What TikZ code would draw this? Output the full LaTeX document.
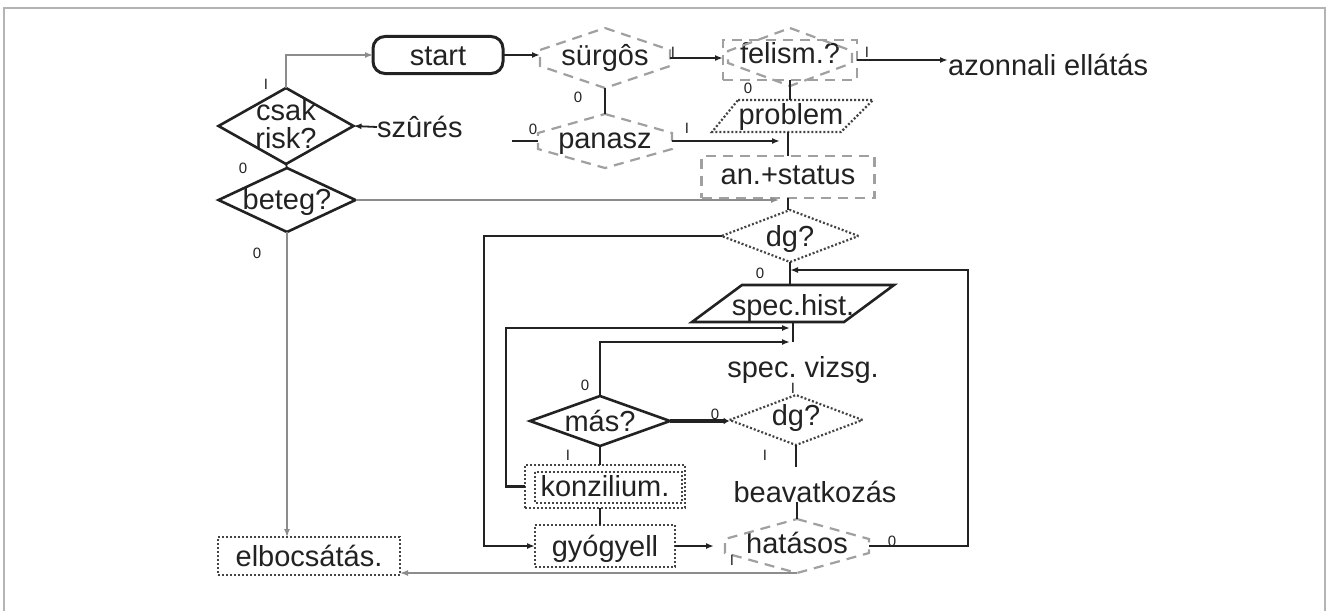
\documentclass[tikz,border=0pt]{standalone}
\usepackage{fontspec}
\setmainfont{Liberation Sans}
\usetikzlibrary{arrows.meta,calc,shapes.geometric}
\definecolor{ink}{HTML}{222222}
\definecolor{gshape}{HTML}{A0A0A0}
\definecolor{gline}{HTML}{8C8C8C}
\definecolor{dotc}{HTML}{444444}
\definecolor{bord}{HTML}{B4B4B4}
\newcommand{\ctext}[2][0pt]{\smash{\makebox[0pt]{\raisebox{\dimexpr-0.36em+#1\relax}{#2}}}}
\newcommand{\hexa}[2]{\draw[graydash] (#1.north) -- ([yshift=#2pt]#1.east) -- ([yshift=-#2pt]#1.east) -- (#1.south) -- ([yshift=-#2pt]#1.west) -- ([yshift=#2pt]#1.west) -- cycle;}
\begin{document}
\begin{tikzpicture}[x=1pt,y=-1pt,
  font=\fontsize{29}{30}\selectfont,
  conn/.style={draw=ink, line width=2.5pt},
  gconn/.style={draw=gline, line width=1.4pt},
  arr/.style={-{Latex[length=8pt,width=6pt]}},
  graydash/.style={draw=gshape, line width=2.2pt, dash pattern=on 10pt off 7pt},
  dotline/.style={draw=dotc, line width=2.2pt, dash pattern=on 2pt off 2pt},
  shp/.style={inner sep=0pt, outer sep=0pt, text=ink},
  solidshape/.style={draw=ink, line width=2.6pt},
  txt/.style={inner sep=0pt, text=ink},
  lab/.style={font=\fontsize{15}{15}\selectfont, inner sep=0pt, text=ink}]
\useasboundingbox (0,0) rectangle (1327,610);
\draw[draw=bord, line width=2.5pt] (4,612) -- (4,8) -- (1325,8) -- (1325,612);

% ---- nodes ----
\node[shp, draw=ink, line width=3pt, rounded corners=12pt, minimum width=130pt, minimum height=37pt] (start) at (438,55) {\ctext{start}};
\node[shp, minimum width=130pt, minimum height=60pt] (sur) at (605,58) {\ctext[3pt]{sürgôs}};
\hexa{sur}{8}
\node[shp, graydash, minimum width=134pt, minimum height=40pt] (fel) at (790,60) {\ctext[7pt]{felism.?}};
\node[shp, minimum width=124pt, minimum height=58pt] (felh) at (790,57) {};
\hexa{felh}{6}
\node[txt, anchor=west] (azon) at (948,65) {azonnali ellátás};

\node[shp, diamond, solidshape, minimum width=135pt, minimum height=76pt] (csak) at (286,126) {\ctext[3pt]{\fontsize{29}{23}\selectfont\begin{tabular}{@{}c@{}}csak\\risk?\end{tabular}}};
\node[txt, anchor=west] (szures) at (377,127) {szûrés};
\node[shp, diamond, solidshape, minimum width=137pt, minimum height=64pt] (beteg) at (287,200) {\ctext[1pt]{beteg?}};

\node[shp, minimum width=134pt, minimum height=54pt] (pan) at (605,141) {\ctext[3pt]{panasz}};
\hexa{pan}{8}
\node[shp, minimum width=132pt, minimum height=32pt] (prob) at (791,116) {\ctext[2pt]{problem}};
\draw[dotline] ([xshift=13pt]prob.north west) -- ([xshift=16pt]prob.north east) -- ([xshift=-16pt]prob.south east) -- ([xshift=-13pt]prob.south west) -- cycle;
\node[shp, graydash, minimum width=173pt, minimum height=42pt] (an) at (788,177) {\ctext[3pt]{an.+status}};

\node[shp, diamond, dotline, minimum width=137pt, minimum height=52pt] (dg1) at (790,236) {\ctext{dg?}};
\node[shp, minimum width=152pt, minimum height=37pt] (sh) at (793,303.5) {\ctext[-2pt]{spec.hist.}};
\draw[solidshape] ([xshift=25pt]sh.north west) -- ([xshift=25pt]sh.north east) -- ([xshift=-25pt]sh.south east) -- ([xshift=-25pt]sh.south west) -- cycle;
\node[txt, anchor=base] (sv) at (803,377) {spec.\ vizsg.};

\node[shp, diamond, solidshape, minimum width=140pt, minimum height=50pt] (mas) at (600,421) {\ctext{más?}};
\node[shp, diamond, dotline, minimum width=133pt, minimum height=50pt] (dg2) at (796,420) {\ctext[5pt]{dg?}};
\node[txt, anchor=base] (bea) at (815,502) {beavatkozás};

\node[shp, dotline, minimum width=160pt, minimum height=43pt] (kon) at (605,486.5) {\ctext{konzilium.}};
\draw[dotline] ([xshift=10pt,yshift=-7pt]kon.north west) rectangle ([xshift=-3pt,yshift=5pt]kon.south east);
\node[shp, dotline, minimum width=140pt, minimum height=42pt] (gyo) at (605,546) {\ctext{gyógyell}};
\node[shp, minimum width=144pt, minimum height=54pt] (hat) at (797,546) {\ctext[3pt]{hatásos}};
\hexa{hat}{7}
\node[shp, dotline, minimum width=182pt, minimum height=38pt] (elb) at (309,556) {\ctext{elbocsátás.}};

% ---- helper coordinates ----
\coordinate (j1) at (780,141);
\coordinate (j2) at (779,200);
\coordinate (j3) at (790,270);
\coordinate (j4) at (790,328);
\coordinate (j5) at (790,342);
\coordinate (b1) at (794,467);
\coordinate (pstub) at (512,141);
\coordinate (lx) at (484,300);
\coordinate (rx) at (968,400);
\coordinate (kx) at (506,400);
\coordinate (h1) at (714,546);

% ---- connectors ----
\draw[gconn, arr] (csak.north) |- (start.west);
\draw[conn, arr] (start.east) -- (start.east -| sur.west);
\draw[conn, arr] (sur.east) -- (sur.east -| fel.west);
\draw[conn, arr] (fel.east) -- (fel.east -| azon.west);
\draw[conn, line width=1.8pt, arr] (szures.west) -- (csak.east);
\draw[conn, line width=1.8pt] (csak.south) -- (beteg.north);
\draw[conn] (sur.south) -- (pan.north);
\draw[conn] (fel.south) -- (fel.south |- prob.north);
\draw[conn] (pstub) -- (pan.west);
\draw[conn, arr] (pan.east) -- (j1);
\draw[conn] (an.north |- prob.south) -- (an.north);
\draw[conn] (an.south) -- (an.south |- dg1.north);
\draw[gconn, arr] (beteg.east) -- (j2);
\draw[gconn, arr] (beteg.south) -- (beteg.south |- elb.north);
\draw[conn, arr] (dg1.west) -| (lx) |- (gyo.west);
\draw[conn] (dg1.south) -- (dg1.south |- sh.north);
\draw[conn, arr] (hat.east) -| (rx) |- (j3);
\draw[conn] (sh.south) -- (sh.south |- j5);
\draw[conn, arr] (kon.west) -| (kx) |- (j4);
\draw[conn, arr] (mas.north) |- (j5);
\draw[conn, line width=4pt, -{Latex[length=6pt,width=7pt]}] (mas.east) -- (mas.east -| dg2.west);
\draw[conn] (mas.south) -- (mas.south |- kon.north);
\draw[conn] (mas.south |- kon.south) -- (mas.south |- gyo.north);
\draw[conn, arr] (gyo.east) -- (h1);
\draw[conn] (dg2.south) -- (dg2.south |- b1);
\draw[conn] (hat.north |- bea.south) -- (hat.north);
\draw[gconn, arr] (hat.south) -- (hat.south -| elb.east);

% ---- branch labels ----
\node[lab] (l1) at (266,84) {I};
\node[lab] (l2) at (243,168) {0};
\node[lab] (l3) at (257,253) {0};
\node[lab] (l4) at (673,52) {I};
\node[lab] (l5) at (578,97) {0};
\node[lab] (l6) at (867,52) {I};
\node[lab] (l7) at (748,88) {0};
\node[lab] (l8) at (533,129) {0};
\node[lab] (l9) at (687,128) {I};
\node[lab] (l10) at (760,273) {0};
\node[lab] (l11) at (585,385) {0};
\node[lab] (l12) at (568,455) {I};
\node[lab] (l13) at (715,414) {0};
\node[lab] (l14) at (765,455) {I};
\node[lab] (l15) at (793,388) {I};
\node[lab] (l16) at (732,560) {I};
\node[lab] (l17) at (892,541) {0};
\end{tikzpicture}
\end{document}
